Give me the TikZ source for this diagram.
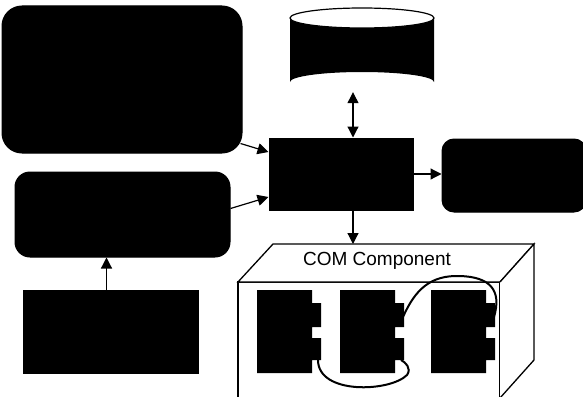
\documentclass[tikz,border=0pt]{standalone}
\usepackage{fontspec}
\setmainfont{Liberation Sans}
\usetikzlibrary{arrows.meta}
\begin{document}
\begin{tikzpicture}[x=1pt, y=-1pt,
        block/.style={draw, fill=black, line width=1pt, inner sep=0pt},
        rblock/.style={block, rounded corners=#1},
        tip/.tip={Triangle[length=11pt, width=11pt]},
        flow/.style={line width=1.2pt, -tip},
        wire/.style={line width=2pt}
    ]
    \useasboundingbox (0,0) rectangle (583,396);

    % boxes
    \node[rblock=20pt, minimum width=240pt, minimum height=147pt] (src)  at (122, 79.5) {};
    \node[rblock=15pt, minimum width=215pt, minimum height=85pt]  (conv) at (122.5, 214.5) {};
    \node[block, minimum width=175pt, minimum height=83pt]         (inp)  at (110.5, 331.5) {};
    \node[block, minimum width=144pt, minimum height=72pt]         (proc) at (341, 174) {};
    \node[rblock=12pt, minimum width=144pt, minimum height=73pt]  (out)  at (514, 175.5) {};

    % database
    \node[minimum width=144pt, minimum height=85pt, inner sep=0pt] (db) at (362, 49.5) {};
    \fill[black] (290,18) -- (290,82)
        arc[start angle=180, end angle=360, x radius=72, y radius=10] -- (434,18) -- cycle;
    \draw[line width=1.2pt, fill=white] (362,18) ellipse[x radius=72, y radius=10];

    % COM box
    \draw[line width=1.3pt, fill=white] (238,398) -- (238,282) -- (500,282) -- (500,398);
    \draw[line width=1.3pt, fill=white] (238,282) -- (273,244) -- (534,244) -- (500,282) -- cycle;
    \draw[line width=1.3pt, fill=white] (500,282) -- (534,244) -- (534,360) -- (500,398);
    \node[font=\fontsize{19}{22}\selectfont] (comlabel) at (377, 261) {COM Component};
    \coordinate (comtop) at (353, 244);

    % components
    \foreach \x/\n in {257/1, 340/2, 431/3} {
        \fill[black] (\x,290) -- ++(55,0) -- ++(0,13) -- ++(9,0) -- ++(0,24) -- ++(-9,0)
            -- ++(0,11) -- ++(9,0) -- ++(0,22) -- ++(-9,0) -- ++(0,13) -- ++(-55,0) -- cycle;
        \coordinate (c\n-up) at (\x+63, 317);
        \coordinate (c\n-lo) at (\x+61, 360);
    }
    \draw[wire] (c1-lo) .. controls (318,395) and (390,392) .. (407,375)
        .. controls (412,368) and (405,362) .. (c2-lo);
    \draw[wire] (c2-up) .. controls (415,290) and (430,275) .. (460,276)
        .. controls (490,277) and (502,290) .. (c3-up);

    % arrows
    \draw[flow] ([shift={(-2pt,10pt)}]src.south east) -- ([yshift=22pt]proc.west);
    \draw[flow] ([yshift=6pt]conv.east) -- ([yshift=-23pt]proc.west);
    \draw[flow] ([xshift=-4pt]inp.north) -- ([xshift=-4pt]inp.north |- conv.south);
    \draw[flow] (proc.east) -- (proc.east -| out.west);
    \draw[flow, tip-tip] ([xshift=12pt]proc.north) -- ([xshift=12pt]proc.north |- db.south);
    \draw[flow] ([xshift=12pt]proc.south) -- (comtop);
\end{tikzpicture}
\end{document}
